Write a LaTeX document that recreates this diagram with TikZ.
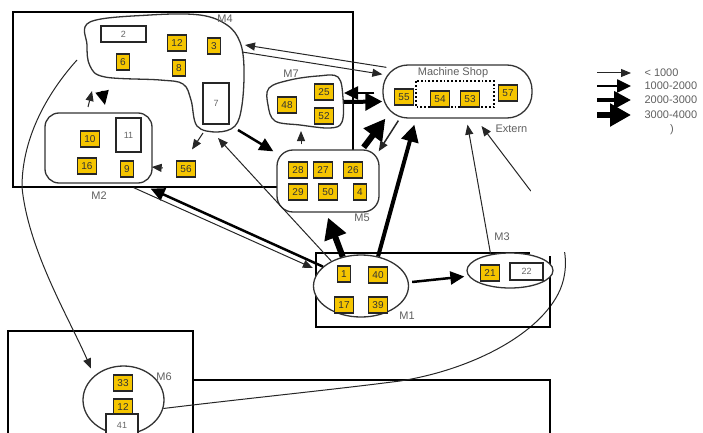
\documentclass[tikz,border=0pt]{standalone}
\usepackage{fontspec}
\setmainfont{Liberation Sans}
\usetikzlibrary{shapes.geometric,arrows.meta,calc}
\definecolor{boxyellow}{RGB}{245,197,0}
\definecolor{labelgray}{RGB}{95,95,95}
\tikzset{
  ybox/.style={draw=black!85,line width=1.1pt,fill=boxyellow,inner sep=0pt,inner xsep=4pt,minimum height=16pt,minimum width=13pt,font=\fontsize{10}{10}\selectfont,text=black!80},
  wbox/.style={draw=black!85,line width=1.1pt,fill=white,inner sep=0pt,font=\fontsize{9}{10}\selectfont,text=black!60},
  group/.style={draw=black!80,line width=1.3pt,fill=white,inner sep=0pt},
  grouplabel/.style={font=\fontsize{11}{12}\selectfont,text=labelgray},
  flowa/.style={draw=black!85,line width=1pt,-{Triangle[length=10pt,width=8pt]}},
  flowb/.style={draw=black,line width=2.5pt,-{Triangle[length=14pt,width=13pt]}},
  flowc/.style={draw=black,line width=4pt,-{Triangle[length=17pt,width=17pt]}},
  flowd/.style={draw=black,line width=6pt,-{Triangle[length=21pt,width=22pt]}}
}
\begin{document}
\begin{tikzpicture}[x=1pt,y=-1pt]
\useasboundingbox (0,0) rectangle (703,433);
\clip (0,0) rectangle (703,433);
% frames
\draw[line width=1.4pt] (13,12) rectangle (353,187);
\draw[line width=1.4pt] (8,440) -- (8,331) -- (193,331) -- (193,440);
\draw[line width=1.4pt] (193,380) -- (550,380) -- (550,440);
% groups
\node[group,ellipse,minimum width=81pt,minimum height=68pt] (m6) at (123.5,400) {};
\coordinate (m6src) at (77,60);
\draw[flowa] (m6src) .. controls (50,90) and (22,135) .. (22,187) .. controls (28,250) and (70,320) .. ($(m6.135)+(-6,-5)$);
\draw[flowa] (m6.-12) .. controls (250,398) and (330,390) .. (400,381) .. controls (470,370) and (540,335) .. (560,290) .. controls (572,262) and (565,225) .. (530,190) -- (481.5,126);
\fill[white] (531,130) rectangle (600,252);
\draw[line width=1.4pt] (530,253) -- (316,253) -- (316,327) -- (550,327) -- (550,256);
\draw[group] plot[smooth cycle,tension=0.6] coordinates {(90,22) (150,15) (200,15) (227,25) (240,42) (244,68) (242,105) (235,126) (217,132) (197,126) (191,100) (183,84) (160,80) (105,77) (90,66) (87,45)};
\draw[group] plot[smooth cycle,tension=0.6] coordinates {(269,88) (290,80) (318,76) (338,77) (343,98) (342,122) (330,128) (300,125) (275,121) (268,105)};
\node[group,rounded corners=14pt,minimum width=107pt,minimum height=70pt] (m2) at (98.5,148) {};
\node[group,rounded corners=16pt,minimum width=102pt,minimum height=62pt] (m5) at (328,181) {};
\node[group,rounded corners=25pt,minimum width=149pt,minimum height=53pt] (ms) at (457.5,91.5) {};
\node[group,ellipse,minimum width=95pt,minimum height=62pt] (m1) at (361,286) {};
\node[group,ellipse,minimum width=86pt,minimum height=35pt] (m3) at (510,270.5) {};
\draw[line width=1.8pt,dotted] (416,81) rectangle (494,107);
% points on the free-form groups
\coordinate (m4a) at (245,45);
\coordinate (m4b) at (242,52);
\coordinate (m4c) at (218,138);
\coordinate (m4d) at (238,130);
\coordinate (m4e) at (203,133);
\coordinate (m7a) at (344,93);
\coordinate (m7b) at (344,102);
\coordinate (m7c) at (301,131);
\coordinate (up1) at (88,107);
\coordinate (up2) at (92,91);
\coordinate (dn1) at (102,91);
\coordinate (dn2) at (105,105);
% stations
\foreach \t/\x/\y in {12/177/43,3/214/46,6/123/62,8/179/68,10/90/139,16/87/166,9/127/169,56/186/169,
  48/287/105,25/324/92,52/324/116,28/298/170,27/323/170,26/353/170,29/298/192,50/328/192,4/360/192,
  55/404/97,54/440/99,53/470/99,57/508/93,1/344/274,40/378/275,17/344/305,39/378/305,21/490/273,33/123/383}
  \node[ybox] (b\t) at (\x,\y) {\t};
\node[ybox] (b12m6) at (123,407) {12};
\node[wbox,minimum width=45pt,minimum height=16pt] (b2) at (123.5,34) {2};
\node[wbox,minimum width=26pt,minimum height=41pt] (b7) at (216,103.5) {7};
\node[wbox,minimum width=25pt,minimum height=34pt] (b11) at (128.5,135) {11};
\node[wbox,minimum width=33pt,minimum height=17pt] (b22) at (526.5,271.5) {22};
\node[wbox,minimum width=32pt,minimum height=22pt] (b41) at (122,425) {41};
% flows
\draw[flowa] ($(ms.north west)+(4,3)$) -- (m4a);
\draw[flowa] (m4b) -- ($(ms.north west)+(0,10)$);
\draw[flowb] ($(ms.west)+(-8,1.5)$) -- (m7a);
\draw[flowc] (m7b) -- ($(ms.west)+(0,10)$);
\draw[flowd] ($(m5.north east)+(-16,-2)$) -- ($(ms.south west)+(3,0)$);
\draw[flowa,line width=1.5pt] ($(ms.south west)+(16,2)$) -- ($(m5.north east)+(-1,2)$);
\draw[flowc] (m1.60) -- ($(ms.south west)+(32,6)$);
\draw[flowd] (m1.122) -- ($(m5.south)+(0,5)$);
\draw[flowa] (m3.140) -- ($(ms.south)+(10,6)$);
\draw[flowb] ($(m1.east)+(3,-4)$) -- ($(m3.west)+(-2,6)$);
\draw[flowb] (m1.153) -- ($(m2.south east)+(-2,5)$);
\draw[flowa] ($(m2.south east)+(-19,4)$) -- ($(m1.west)+(0,-18)$);
\draw[flowa] (m1.140) -- (m4c);
\draw[flowb] (m4d) -- ($(m5.north west)+(-3,2)$);
\draw[flowa] (m4e) -- ($(b56.north)+(6,-11)$);
\draw[flowa] ($(b56.west)+(-13,-1)$) -- ($(m2.east)+(-1,19)$);
\draw[flowa] ($(m5.north)+(-27,-5)$) -- (m7c);
\draw[flowa] (up1) -- (up2);
\draw[flowb] (dn1) -- (dn2);
% labels
\node[grouplabel] (lm4) at (225,19) {M4};
\node[grouplabel] (lm7) at (291,74) {M7};
\node[grouplabel] (lm2) at (99,196) {M2};
\node[grouplabel] (lm5) at (362,218) {M5};
\node[grouplabel] (lm1) at (407,316) {M1};
\node[grouplabel] (lm3) at (502,237) {M3};
\node[grouplabel] (lm6) at (164,377) {M6};
\node[grouplabel] (lms) at (453,73) {Machine Shop};
\node[grouplabel,anchor=west] (lext) at (492,129) {Extern};
% legend
\node[grouplabel,anchor=west] (l1) at (641,73) {< 1000};
\node[grouplabel,anchor=west] (l2) at (641,86) {1000-2000};
\node[grouplabel,anchor=west] (l3) at (641,100) {2000-3000};
\node[grouplabel,anchor=west] (l4) at (641,115) {3000-4000};
\node[grouplabel] (l5) at (672,130) {)};
\draw[flowa] ([xshift=-44pt]l1.west) -- ([xshift=-10pt]l1.west);
\draw[flowb] ([xshift=-44pt]l2.west) -- ([xshift=-10pt]l2.west);
\draw[flowc] ([xshift=-44pt]l3.west) -- ([xshift=-10pt]l3.west);
\draw[flowd] ([xshift=-44pt]l4.west) -- ([xshift=-10pt]l4.west);
\end{tikzpicture}
\end{document}
